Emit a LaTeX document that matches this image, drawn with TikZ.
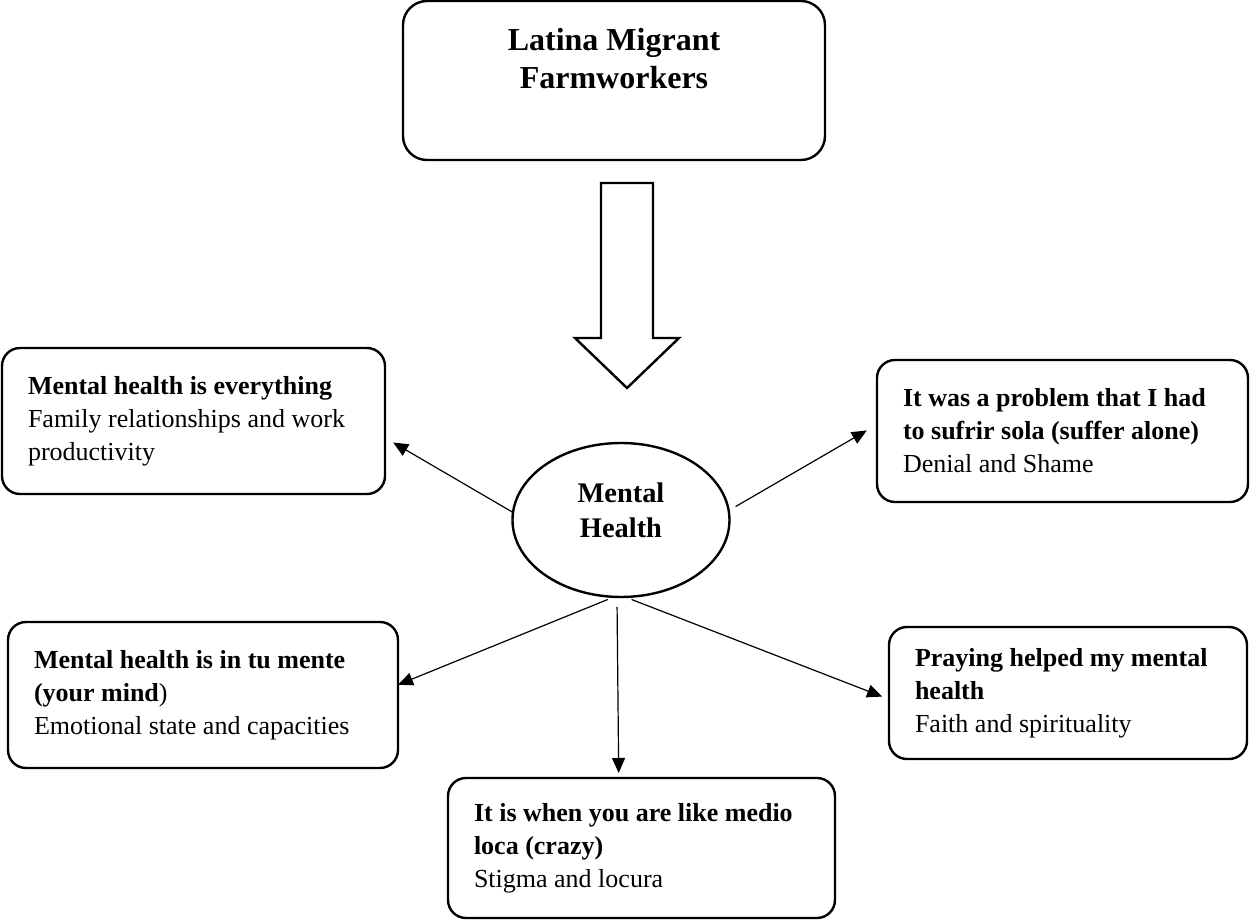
\documentclass[tikz,border=0pt]{standalone}
\usepackage{fontspec}
\setmainfont{Liberation Serif}
\usepackage{tikz}
\usetikzlibrary{arrows.meta}
\usetikzlibrary{shapes.geometric}
\newcommand{\themefont}{\fontsize{13pt}{16.5pt}\selectfont}
\newcommand{\rootfont}{\fontsize{16pt}{19pt}\selectfont\bfseries}
\newcommand{\centrefont}{\fontsize{14.2pt}{17.5pt}\selectfont\bfseries}
\tikzstyle{box}=[draw, line width=1.2pt, inner ysep=0, outer sep=0]
\tikzstyle{rootbox}=[box, rounded corners=12pt, align=center, font=\rootfont,
                     minimum width=211pt, minimum height=79.5pt]
\tikzstyle{themebox}=[box, rounded corners=9pt, align=flush left, inner xsep=13pt, font=\themefont]
\tikzstyle{centre}=[box, ellipse, inner sep=0, align=center, font=\centrefont,
                    minimum width=108.5pt, minimum height=77pt]
\tikzstyle{link}=[-{Triangle[length=7.5pt, width=6.5pt]}, line width=0.6pt]
% One unit is one pixel of the figure, y going down.
\tikzstyle{thememap}=[x=0.5pt, y=-0.5pt]

\begin{document}
\begin{tikzpicture}[thememap]
    \useasboundingbox (0, 0) rectangle (1250, 920);
    \node[rootbox] (farmworkers) at (614, 80.5) {Latina Migrant\\Farmworkers\rule[-22.5pt]{0pt}{0pt}};
    % Hollow arrow down to the centre.
    \draw[line width=1.2pt] (601, 183) -- (653, 183) -- (653, 338) -- (679, 338) -- (627, 388)
        -- (575, 338) -- (601, 338) -- cycle;
    \node[centre] (health) at (621, 520) {Mental\\Health\rule[-10.3pt]{0pt}{0pt}};

    \node[themebox, text width=165.5pt, minimum height=73pt] (everything) at (193.5, 421)
        {\textbf{Mental health is everything}\\Family relationships and work\\productivity};
    \node[themebox, text width=159.5pt, minimum height=71pt] (sola) at (1062.5, 431)
        {\textbf{It was a problem that I had}\\\textbf{to sufrir sola (suffer alone)}\\Denial and Shame};
    \node[themebox, text width=169pt, minimum height=73pt] (mente) at (203, 695)
        {\textbf{Mental health is in tu mente}\\\textbf{(your mind})\\Emotional state and capacities};
    \node[themebox, text width=153pt, minimum height=66pt] (praying) at (1068, 693)
        {\textbf{Praying helped my mental}\\\textbf{health}\\Faith and spirituality};
    \node[themebox, text width=167.5pt, minimum height=70pt] (loca) at (641.5, 848)
        {\textbf{It is when you are like medio}\\\textbf{loca (crazy)}\\Stigma and locura};

    \draw[link, shorten >=4.7pt] (health.176) -- (everything.-5);
    \draw[link, shorten <=4pt, shorten >=5.9pt] (health.5) -- (sola.178);
    \draw[link, shorten <=3.5pt] (health.265) -- (mente.3);
    \draw[link, shorten <=3.5pt, shorten >=3.7pt] (health.273) -- (praying.182);
    \draw[link, shorten <=5pt, shorten >=2.5pt] (health.267) -- (loca.108);
\end{tikzpicture}
\end{document}
